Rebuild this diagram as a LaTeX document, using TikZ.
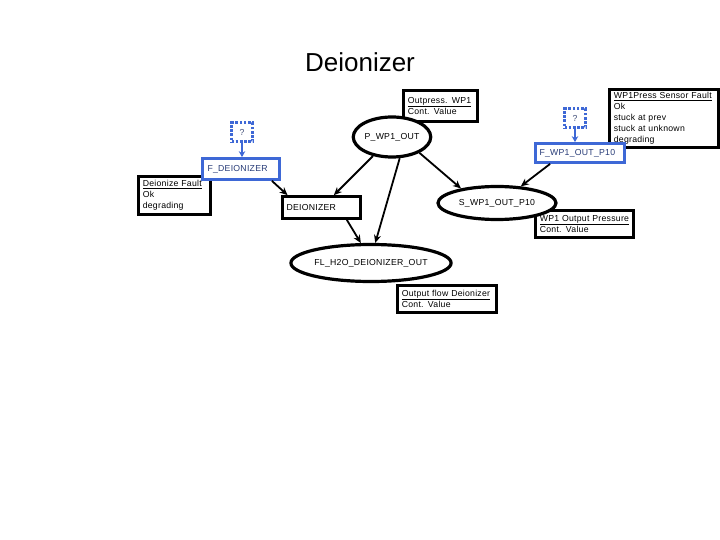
\documentclass[tikz,border=0pt]{standalone}
\usepackage{fontspec}
\setmainfont{Liberation Sans}
\newfontfamily\spaced[LetterSpace=3]{Liberation Sans}
\usetikzlibrary{arrows.meta,shapes.geometric}
\definecolor{bblue}{RGB}{62,104,214}
\definecolor{btext}{RGB}{40,60,120}
\tikzset{
  lbl/.style={font=\spaced\fontsize{8.7}{11}\selectfont},
  infobox/.style={lbl, draw=black, line width=2.6pt, fill=white, align=left, anchor=north west,
     inner xsep=4.5pt, inner ysep=1pt},
  oval/.style={lbl, ellipse, draw=black, line width=3.2pt, fill=white, inner sep=0pt},
  varbox/.style={lbl, rectangle, draw=black, line width=2.7pt, fill=white, inner sep=0pt},
  fbox/.style={lbl, rectangle, draw=bblue, line width=2.7pt, fill=white, text=btext, inner sep=0pt},
  qbox/.style={lbl, rectangle, draw=bblue, line width=3pt, dash pattern=on 2.6pt off 1.6pt,
     fill=white, text=btext!70!gray, inner sep=0pt, minimum width=21pt, minimum height=19pt},
  conn/.style={draw=black, line width=1.8pt, -{Stealth[length=8pt,width=7pt]}},
  bconn/.style={draw=bblue, line width=2pt, -{Stealth[length=6pt,width=6.5pt]}},
}
\begin{document}
\begin{tikzpicture}[x=1pt,y=-1pt]
\useasboundingbox (0,0) rectangle (720,540);
\fill[white] (0,0) rectangle (720,540);

\node[font=\fontsize{26}{30}\selectfont] (title) at (360,62) {Deionizer};

% info boxes
\node[infobox, text width=65pt, minimum height=31pt] (outp) at (402,89)
  {\underline{Outpress. WP1}\\Cont. Value};
\node[infobox, text width=100pt, minimum height=58pt] (sens) at (608,88)
  {\underline{WP1Press Sensor Fault}\\Ok\\stuck at prev\\stuck at unknown\\degrading};
\node[infobox, text width=63pt, minimum height=38pt] (dfault) at (137,175)
  {\underline{Deionize Fault}\\Ok\\degrading};
\node[infobox, text width=89pt, minimum height=27pt] (wp1p) at (534,209)
  {\underline{WP1 Output Pressure}\\Cont. Value};
\node[infobox, text width=90pt, minimum height=27pt] (oflow) at (396,284)
  {\underline{Output flow Deionizer}\\Cont. Value};

% variable nodes
\node[oval, minimum width=71pt, minimum height=40pt] (pw) at (392,137) {P\_WP1\_OUT};
\node[oval, minimum width=118pt, minimum height=33pt] (s) at (497,203) {S\_WP1\_OUT\_P10};
\node[oval, minimum width=146pt, minimum height=37pt] (fl) at (371,263) {FL\_H2O\_DEIONIZER\_OUT};
\node[varbox, minimum width=78pt, minimum height=22pt, text width=70pt, align=left] (deion) at (321.5,207.5) {DEIONIZER};

% fault nodes
\node[fbox, minimum width=77pt, minimum height=21pt, text width=67pt, align=left] (fdeion) at (241,169) {F\_DEIONIZER};
\node[fbox, minimum width=89pt, minimum height=19pt, text width=81pt, align=left] (fwp) at (580,153) {F\_WP1\_OUT\_P10};
\node[qbox] (q1) at (242,132.5) {?};
\node[qbox] (q2) at (575,118.5) {?};

% connectors
\draw[bconn] (q1.south) -- (q1.south |- fdeion.north);
\draw[bconn] (q2.south) -- (q2.south |- fwp.north);
\draw[conn] (fdeion.-21) -- (deion.160);
\draw[conn] (pw) -- (deion.45);
\draw[conn] (pw.290) -- (fl.78);
\draw[conn] (deion.-26) -- (fl.117);
\draw[conn] (pw.-30) -- (s.158);
\draw[conn] (fwp.200) -- (s.35);
\end{tikzpicture}
\end{document}
